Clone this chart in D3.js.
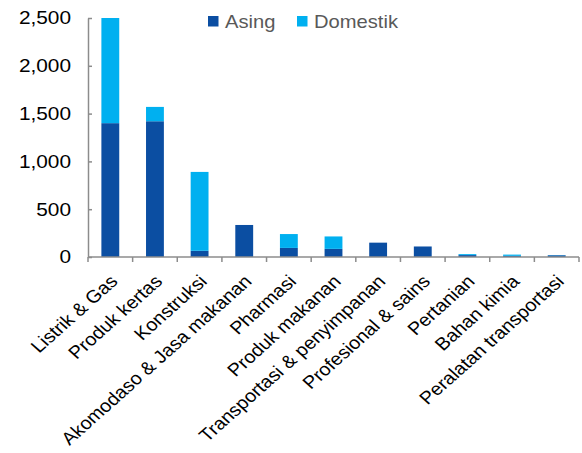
<!DOCTYPE html>
<html>
<head>
<meta charset="utf-8">
<script src="https://cdn.jsdelivr.net/npm/d3@7"></script>
<style>
  body { margin: 0; background: #fff; }
  text { font-family: "Liberation Sans", Arial, sans-serif; }
</style>
</head>
<body>
<div id="chart"></div>
<script>
// data
var sectors = ["Listrik & Gas", "Produk kertas", "Konstruksi", "Akomodaso & Jasa makanan",
  "Pharmasi", "Produk makanan", "Transportasi & penyimpanan", "Profesional & sains",
  "Pertanian", "Bahan kimia", "Peralatan transportasi"];
var asing = [1400, 1420, 65, 335, 95, 85, 150, 110, 20, 12, 18];
var domestik = [1100, 150, 825, 0, 145, 130, 0, 0, 10, 13, 2];
var seriesNames = ["Asing", "Domestik"];
var yTicks = [0, 500, 1000, 1500, 2000, 2500];

var svgWidth = 582;
var svgHeight = 453;
var margin = { top: 18, right: 3, bottom: 196, left: 88 };
var width = svgWidth - margin.left - margin.right;
var height = svgHeight - margin.top - margin.bottom;

var colors = { Asing: "#0b4ea2", Domestik: "#00b0f0" };
var axisColor = "#8c8c8c";
var stretch = 1.12; // the whole reference looks widened, text included

var svg = d3.select("#chart").append("svg")
  .attr("width", svgWidth)
  .attr("height", svgHeight);

var chartGroup = svg.append("g")
  .attr("transform", `translate(${margin.left}, ${margin.top})`);

var rows = sectors.map(function(s, i) {
  return { sector: s, Asing: asing[i], Domestik: domestik[i] };
});

var stacked = d3.stack().keys(seriesNames)(rows);

var x = d3.scaleBand()
  .domain(sectors)
  .range([0, width])
  .paddingInner(0.6)
  .paddingOuter(0.3);

var y = d3.scaleLinear()
  .domain([0, 2500])
  .range([height, 0]);

// bars
chartGroup.selectAll(".series")
  .data(stacked)
  .enter()
  .append("g")
  .attr("fill", d => colors[d.key])
  .selectAll("rect")
  .data(d => d)
  .enter()
  .append("rect")
  .attr("x", d => x(d.data.sector))
  .attr("width", x.bandwidth())
  .attr("y", d => y(d[1]))
  .attr("height", d => y(d[0]) - y(d[1]));

// y axis, small ticks pointing inward
var leftAxis = d3.axisLeft(y)
  .tickValues(yTicks)
  .tickFormat(d3.format(","))
  .tickSizeInner(-4)
  .tickSizeOuter(0)
  .tickPadding(17);

var yAxis = chartGroup.append("g").call(leftAxis);
yAxis.select(".domain").attr("stroke", axisColor).attr("stroke-width", 1.5);
yAxis.selectAll(".tick line").attr("stroke", axisColor).attr("stroke-width", 1.5);
yAxis.selectAll("text")
  .attr("x", -17 / stretch)
  .attr("transform", `scale(${stretch}, 1)`)
  .attr("font-size", "18.6px")
  .attr("fill", "#000")
  .attr("font-family", "Liberation Sans, Arial, sans-serif");

// x axis: line plus ticks at band boundaries
var step = x.step();
var xAxisG = chartGroup.append("g")
  .attr("transform", `translate(0, ${height})`);

xAxisG.append("line")
  .attr("x1", 0).attr("x2", width)
  .attr("stroke", axisColor).attr("stroke-width", 1.5);

xAxisG.selectAll(".tick-mark")
  .data(d3.range(sectors.length + 1))
  .enter()
  .append("line")
  .attr("x1", i => i * step)
  .attr("x2", i => i * step)
  .attr("y1", 0).attr("y2", 5)
  .attr("stroke", axisColor).attr("stroke-width", 1.5);

xAxisG.selectAll(".xlabel")
  .data(sectors)
  .enter()
  .append("text")
  .attr("transform", d => `translate(${x(d) + x.bandwidth() / 2 + 8.5}, 25.5) scale(${stretch}, 1) rotate(-45)`)
  .attr("text-anchor", "end")
  .attr("font-size", "17.8px")
  .attr("fill", "#000")
  .text(d => d);

// legend
var legend = svg.append("g").attr("transform", "translate(208, 16)");
var legendX = [0, 89];
seriesNames.forEach(function(name, i) {
  legend.append("rect")
    .attr("x", legendX[i]).attr("y", 0)
    .attr("width", 10.5).attr("height", 10.5)
    .attr("fill", colors[name]);
  legend.append("text")
    .attr("transform", `translate(${legendX[i] + 17}, 11.5) scale(${stretch}, 1)`)
    .attr("font-size", "18px")
    .attr("fill", "#595959")
    .text(name);
});
</script>
</body>
</html>
